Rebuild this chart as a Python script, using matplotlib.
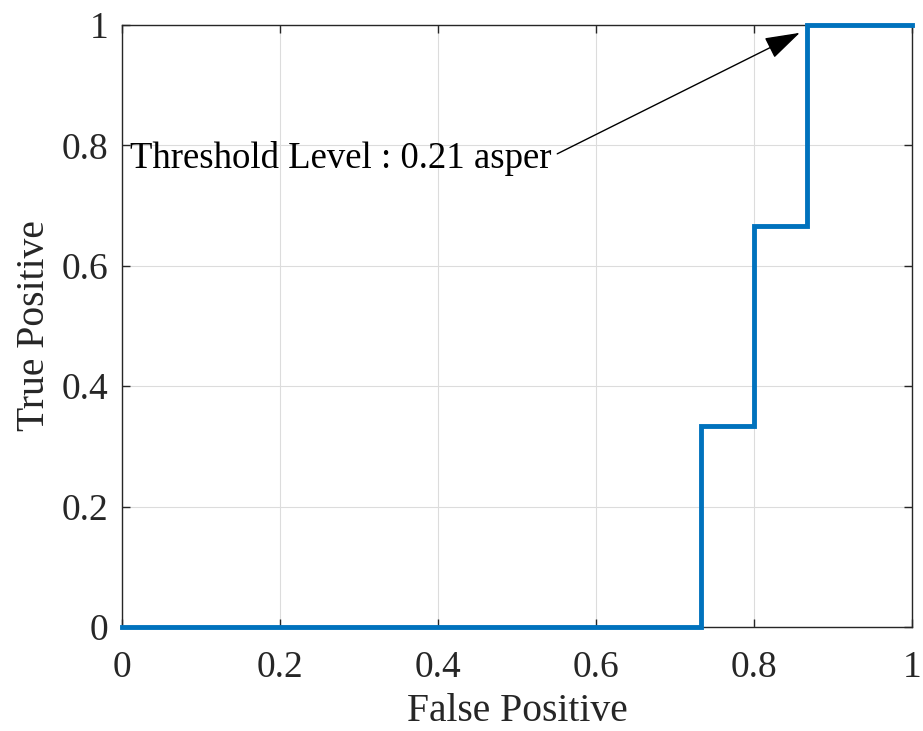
import matplotlib
matplotlib.use("Agg")
import matplotlib.pyplot as plt

# ROC step data
fp = [0, 0.7333, 0.7333, 0.8, 0.8, 0.8667, 0.8667, 1]
tp = [0, 0, 0.3333, 0.3333, 0.6667, 0.6667, 1, 1]
ticks = [0, 0.2, 0.4, 0.6, 0.8, 1]
tick_labels = ["0", "0.2", "0.4", "0.6", "0.8", "1"]

plt.rcParams['font.family'] = ['Liberation Serif', 'DejaVu Serif']

fig = plt.figure(figsize=(9.23, 7.31), dpi=100)
ax = fig.add_axes([0.1322, 0.1423, 0.8558, 0.8235])
ax.plot(fp, tp, color='#0072BD', linewidth=3.5, solid_joinstyle='miter', clip_on=False, zorder=3)

ax.set_xlim(0, 1)
ax.set_ylim(0, 1)
ax.set_xticks(ticks)
ax.set_xticklabels(tick_labels)
ax.set_yticks(ticks)
ax.set_yticklabels(tick_labels)
ax.tick_params(direction='in', top=True, right=True, labelsize=27, length=6,
               width=1, colors='#262626')
ax.tick_params(axis='x', pad=17)
ax.tick_params(axis='y', pad=10)
ax.grid(True, color='#dcdcdc', linewidth=0.8)
ax.set_axisbelow(True)
for s in ax.spines.values():
    s.set_color('#262626')
    s.set_linewidth(1)

ax.set_xlabel('False Positive', fontsize=28.5, color='#262626', labelpad=6)
ax.set_ylabel('True Positive', fontsize=28.5, color='#262626', labelpad=6)

ax.text(0.0101, 0.762, 'Threshold Level : 0.21 asper', fontsize=26.5,
        ha='left', va='baseline', color='black')
ax.annotate('', xy=(0.858, 0.987), xytext=(0.551, 0.786),
            arrowprops=dict(arrowstyle='-|>,head_length=1.1,head_width=0.35',
                            color='black', lw=1, shrinkA=0, shrinkB=0,
                            mutation_scale=20))

fig.savefig('out.png', dpi=100)
